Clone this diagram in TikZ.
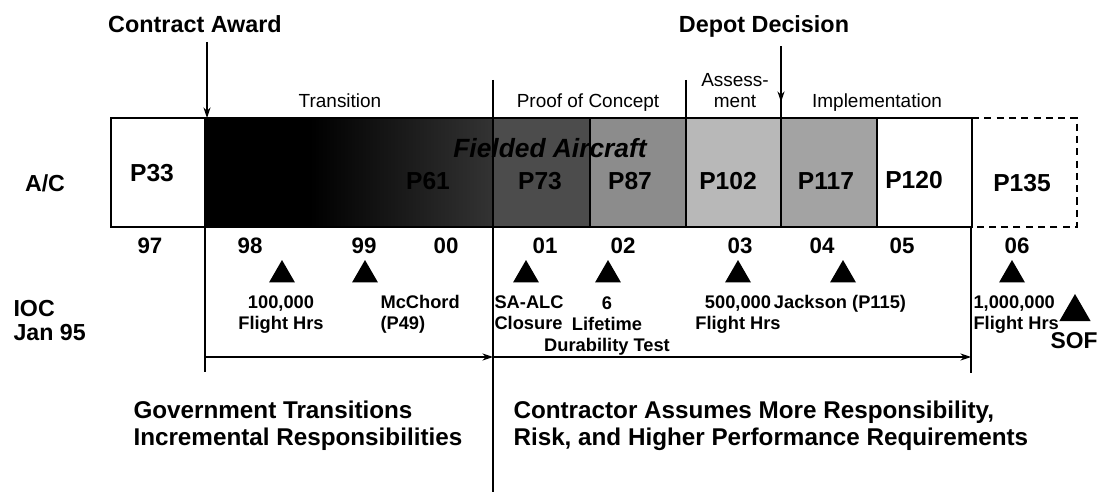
\documentclass[tikz,border=0pt]{standalone}
\usepackage{fontspec}
\setmainfont{Liberation Sans}
\usetikzlibrary{positioning, arrows.meta, shapes.geometric}

\tikzset{
    heading/.style={font=\fontsize{13.3}{16}\selectfont\bfseries, inner sep=0pt},
    phase/.style={font=\fontsize{10.8}{12}\selectfont, align=center, inner sep=0pt},
    plabel/.style={font=\fontsize{14}{16}\selectfont\bfseries, inner sep=0pt},
    side/.style={font=\fontsize{13.2}{13.2}\selectfont\bfseries, inner sep=0pt},
    year/.style={font=\fontsize{12.7}{14}\selectfont\bfseries, inner sep=0pt},
    event/.style={font=\fontsize{10.4}{11.9}\selectfont\bfseries, inner sep=0pt},
    tri/.style={regular polygon, regular polygon sides=3, fill=black, inner sep=0pt, minimum size=0.6cm},
    note/.style={font=\fontsize{13.8}{15.3}\selectfont\bfseries, align=left, inner sep=0pt},
    arr/.style={-{Stealth[length=6pt, width=4pt]}, line width=0.6pt}
}

\begin{document}
\begin{tikzpicture}[x=0.02cm, y=-0.02cm, line width=0.6pt]
\useasboundingbox (0,0) rectangle (1101,503);

    % headings and their pointers
    \node[heading, anchor=base] (award) at (195,33) {Contract Award};
    \node[heading, anchor=base] (depot) at (764,33) {Depot Decision};
    \coordinate (awardpt) at (207,118);
    \coordinate (depotpt) at (781,102);
    \draw[arr] (award.south -| awardpt) ++(0,8) -- (awardpt);
    \draw[arr] (depot.south -| depotpt) ++(0,8) -- (depotpt);

    % phases (base = last line)
    \node[phase, anchor=base] (trans) at (340,108) {Transition};
    \node[phase, anchor=base] (proof) at (588,108) {Proof of Concept};
    \node[phase, anchor=base] (assess) at (735,108) {Assess-\\ment};
    \node[phase, anchor=base] (impl) at (877,108) {Implementation};
    \draw (686,80) -- (686,118);
    \draw (781,80) -- (781,118);

    % aircraft blocks
    \fill[black] (205,118) rectangle (310,227);
    \shade[left color=black, right color=black!80] (310,118) rectangle (493,227);
    \foreach \l/\r/\c in {111/205/white, 493/590/black!70, 590/686/black!45, 686/781/black!28, 781/877/black!36, 877/972/white}
        \draw[fill=\c] (\l,118) rectangle (\r,227);
    \draw[dash pattern=on 4pt off 3pt] (972,118) -- (1077,118) -- (1077,227) -- (972,227);
    \draw (205,118) -- (493,118) (205,227) -- (493,227);

    \node[font=\fontsize{15}{17}\selectfont\bfseries\itshape, anchor=base] (fielded) at (550,158) {Fielded Aircraft};
    \foreach \x/\t/\y in {152/P33/182, 428/P61/190, 540/P73/190, 630/P87/190, 728/P102/190, 826/P117/190, 914/P120/189, 1022/P135/192}
        \node[plabel, anchor=base] (box\t) at (\x,\y) {\t};

    \node[side, anchor=base] (ac) at (45,192) {A/C};

    % years
    \foreach \x/\yr in {150/97, 250/98, 364/99, 446/00, 545/01, 623/02, 740/03, 822/04, 902/05, 1017/06}
        \node[year, anchor=base] (yr\yr) at (\x,253) {\yr};

    % milestones
    \foreach \x/\n in {282/a, 365/b, 526/c, 608/d, 738/e, 843/f, 1012/g}
        \node[tri] (ms\n) at (\x,275) {};
    \node[tri, minimum size=0.72cm] (mssof) at (1075,312) {};

    \node[event, align=center, anchor=base] (evta) at (281,329) {100,000\\Flight Hrs};
    \node[event, align=left, anchor=base west] (evtb) at (380,329) {McChord\\(P49)};
    \node[event, align=left, anchor=base west] (evtc) at (494,329) {SA-ALC\\Closure};
    \node[event, align=center, anchor=base] (evtd) at (607,351) {6\\Lifetime\\Durability Test};
    \node[event, align=center, anchor=base] (evte) at (738,329) {500,000\\Flight Hrs};
    \node[event, anchor=base] (evtf) at (840,308) {Jackson (P115)};
    \node[event, align=left, anchor=base west] (evtg) at (973,329) {1,000,000\\Flight Hrs};
    \node[font=\fontsize{13}{15}\selectfont\bfseries, inner sep=0pt, anchor=base] (sof) at (1074,348) {SOF};

    \node[side, align=left, anchor=base west] (ioc) at (13,340) {IOC\\Jan 95};

    % responsibility spans
    \coordinate (govL) at (205,357);
    \coordinate (split) at (493,357);
    \coordinate (conR) at (971,357);
    \draw (205,227) -- (205,372);
    \draw (971,227) -- (971,373);
    \draw (493,80) -- (493,492);
    \draw[arr] (govL) -- (split);
    \draw[arr] (split) -- (conR);

    \node[note, anchor=base west] (gov) at (133,445) {Government Transitions\\Incremental Responsibilities};
    \node[note, anchor=base west] (con) at (513,445) {Contractor Assumes More Responsibility,\\Risk, and Higher Performance Requirements};
\end{tikzpicture}
\end{document}
